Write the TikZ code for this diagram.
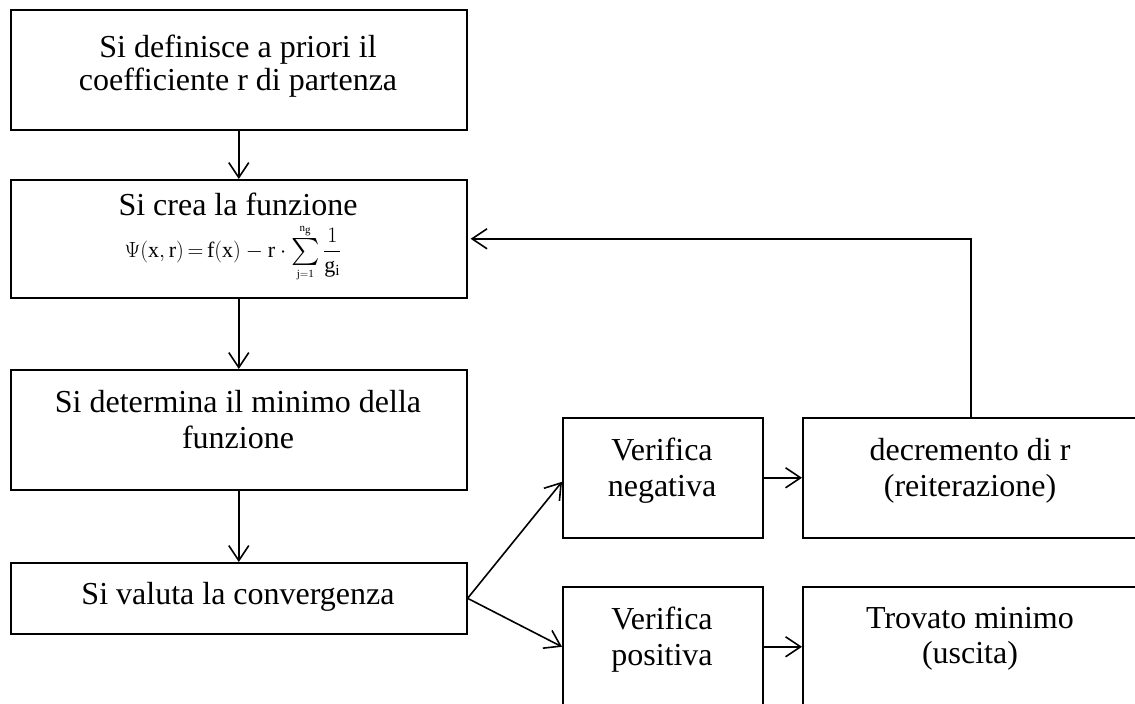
\RequirePackage{fix-cm}
\documentclass[tikz,border=0pt]{standalone}
\usepackage{amsmath}
\usepackage{graphicx}
\usepackage{fontspec}
\setmainfont{Liberation Serif}
\usetikzlibrary{arrows.meta}
\tikzset{
  box/.style={draw, line width=1.6pt, inner sep=0pt, anchor=north west},
  txt/.style={anchor=base, inner sep=0pt, font=\fontsize{32}{35}\selectfont},
  conn/.style={line width=1.6pt, -{Straight Barb[length=15pt,width=20pt,line width=1.6pt]}}
}
\newcommand{\bigsum}{\mathop{\vcenter{\hbox{\scalebox{1.3}{$\textstyle\sum$}}}}}
\begin{document}
\begin{tikzpicture}[x=1pt,y=-1pt]
\clip (0,0) rectangle (1135,704);
\fill[white] (0,0) rectangle (1135,704);
% boxes
\node[box, minimum width=456pt, minimum height=120pt] (b1) at (10,9) {};
\node[box, minimum width=456pt, minimum height=118pt] (b2) at (10,179) {};
\node[box, minimum width=456pt, minimum height=120pt] (b3) at (10,369) {};
\node[box, minimum width=456pt, minimum height=71pt] (b4) at (10,562) {};
\node[box, minimum width=200pt, minimum height=120pt] (neg) at (562,417) {};
\node[box, minimum width=336pt, minimum height=120pt] (dec) at (802,417) {};
\node[box, minimum width=200pt, minimum height=120pt] (pos) at (562,586) {};
\node[box, minimum width=336pt, minimum height=120pt] (trov) at (802,586) {};
% texts
\node[txt] (t1a) at (238,57) {Si definisce a priori il};
\node[txt] (t1b) at (238,90) {coefficiente r di partenza};
\node[txt] (t2a) at (238,215) {Si crea la funzione};
\node[anchor=base, inner sep=0pt] (t2b) at (233,257)
  {\fontsize{22}{24}\selectfont$\Psi\!\left(\mathrm{x},\mathrm{r}\right)\mkern-2mu=\mkern-2mu\mathrm{f}\!\left(\mathrm{x}\right)-\mathrm{r}\cdot\bigsum\limits_{\scriptscriptstyle\mathrm{j=1}}^{\scriptscriptstyle\mathrm{n_g}}\dfrac{1}{\mathrm{g_i}}$};
\node[txt] (t3a) at (238,412) {Si determina il minimo della};
\node[txt] (t3b) at (238,448) {funzione};
\node[txt] (t4) at (238,604) {Si valuta la convergenza};
\node[txt] (tna) at (662,460) {Verifica};
\node[txt] (tnb) at (662,496) {negativa};
\node[txt] (tda) at (970,460) {decremento di r};
\node[txt] (tdb) at (970,496) {(reiterazione)};
\node[txt] (tpa) at (662,629) {Verifica};
\node[txt] (tpb) at (662,665) {positiva};
\node[txt] (tta) at (970,628) {Trovato minimo};
\node[txt] (ttb) at (970,663) {(uscita)};
% connectors
\draw[conn] (b1.south) -- (b2.north);
\draw[conn] (b2.south) -- (b3.north);
\draw[conn] (b3.south) -- (b4.north);
\draw[conn] (b4.east) -- ([yshift=-4pt]neg.west);
\draw[conn] (b4.east) -- (pos.west);
\draw[conn] (neg.east) -- (dec.west);
\draw[conn] (pos.east) -- (trov.west);
\draw[conn] (dec.north) |- ([xshift=3pt]b2.east);
\end{tikzpicture}
\end{document}
